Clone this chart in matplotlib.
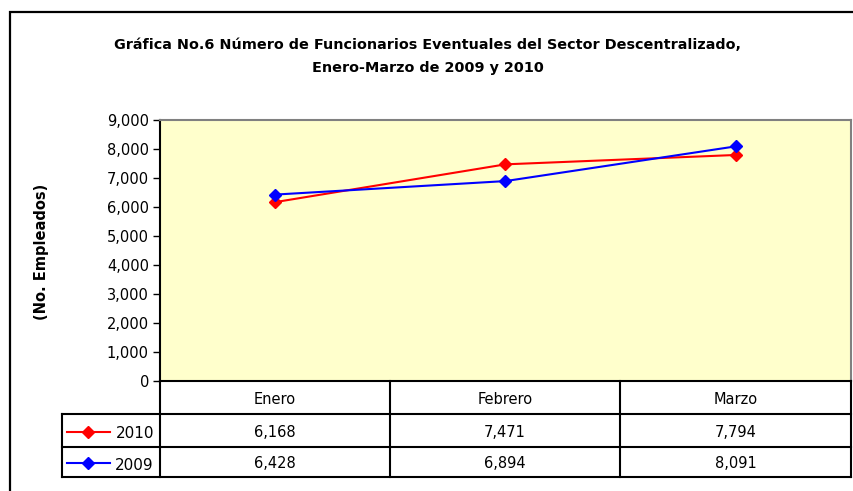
import matplotlib.pyplot as plt
from matplotlib.lines import Line2D
from matplotlib.patches import Rectangle

plt.rcParams["font.family"] = ["DejaVu Sans"]

# Data
months = ["Enero", "Febrero", "Marzo"]
series_names = ["2010", "2009"]
vals_2010 = [6168, 7471, 7794]
vals_2009 = [6428, 6894, 8091]
series_colors = ["#FF0000", "#0000FF"]

W, H = 854, 491
fig = plt.figure(figsize=(W / 100, H / 100), dpi=100)


def fx(px):
    return px / W


def fy(py):
    return 1 - py / H


# outer frame (runs off the right/bottom edge like the original)
fig.patches.append(Rectangle((fx(10), fy(600)), fx(900), fy(12) - fy(600),
                             transform=fig.transFigure, fill=False,
                             edgecolor="black", linewidth=1.6))

left, right, top, bottom = 160, 851, 120, 381
ax = fig.add_axes([fx(left), fy(bottom), fx(right - left), fy(top) - fy(bottom)])
ax.set_facecolor("#FFFFCC")

x = [0.5, 1.5, 2.5]
for vals, name, col in zip([vals_2010, vals_2009], series_names, series_colors):
    ax.plot(x, vals, color=col, linewidth=1.5, marker="D", markersize=6,
            label=name)

ax.set_xlim(0, 3)
ax.set_ylim(0, 9000)
ax.set_yticks(range(0, 9001, 1000))
ax.set_yticklabels([f"{v:,}" for v in range(0, 9001, 1000)], fontsize=10.5)
ax.set_xticks([])
ax.tick_params(axis="y", direction="out", length=5, width=1, pad=3)
ax.spines["left"].set_linewidth(1.5)
ax.spines["bottom"].set_linewidth(1.5)
for s in ["top", "right"]:
    ax.spines[s].set_color("#808080")
    ax.spines[s].set_linewidth(1.5)

fig.text(fx(42), fy(252), "(No. Empleados)", rotation=90, ha="center",
         va="center", fontsize=10.5, fontweight="bold")

fig.text(fx(428), fy(45), "Gráfica No.6 Número de Funcionarios Eventuales del Sector Descentralizado,",
         ha="center", va="center", fontsize=10.4, fontweight="bold")
fig.text(fx(428), fy(68), "Enero-Marzo de 2009 y 2010",
         ha="center", va="center", fontsize=10.4, fontweight="bold")

# data table below the plot
col_edges = [160, 390, 620, 851]
row_edges = [381, 414, 447, 477]
tab_left = 62


def hline(y, x0, x1):
    fig.add_artist(Line2D([fx(x0), fx(x1)], [fy(y), fy(y)], color="black",
                          linewidth=1.5, transform=fig.transFigure))


def vline(xp, y0, y1):
    fig.add_artist(Line2D([fx(xp), fx(xp)], [fy(y0), fy(y1)], color="black",
                          linewidth=1.5, transform=fig.transFigure))


for y in row_edges[1:]:
    hline(y, tab_left, col_edges[-1])
vline(tab_left, row_edges[1], row_edges[-1])
for xp in col_edges:
    vline(xp, row_edges[0], row_edges[-1])

for i, m in enumerate(months):
    cx = (col_edges[i] + col_edges[i + 1]) / 2
    fig.text(fx(cx), fy((row_edges[0] + row_edges[1]) / 2 + 2), m,
             ha="center", va="center", fontsize=10.5)

for r, (vals, name, col) in enumerate(zip([vals_2010, vals_2009], series_names, series_colors)):
    cy = (row_edges[r + 1] + row_edges[r + 2]) / 2
    fig.add_artist(Line2D([fx(67), fx(88), fx(110)], [fy(cy + 1)] * 3, color=col,
                          linewidth=1.5, marker="D", markersize=6,
                          markevery=[1], transform=fig.transFigure))
    fig.text(fx(154), fy(cy + 3), name, ha="right", va="center", fontsize=11)
    for i, v in enumerate(vals):
        cx = (col_edges[i] + col_edges[i + 1]) / 2
        fig.text(fx(cx), fy(cy + 2), f"{v:,}", ha="center", va="center", fontsize=10.5)

fig.savefig("out.png", dpi=100)
